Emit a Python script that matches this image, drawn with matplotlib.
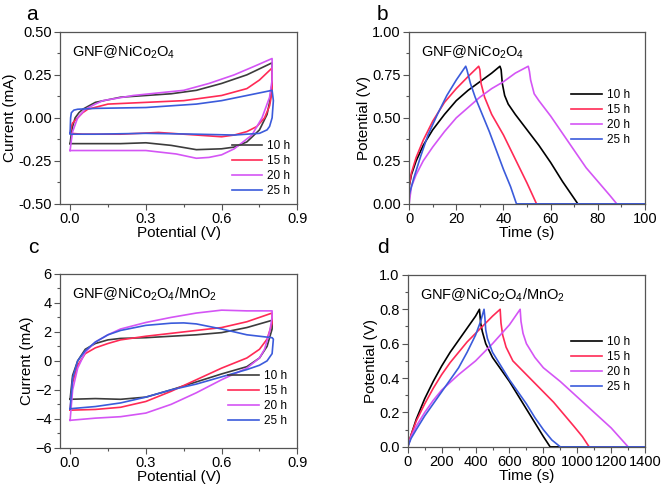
import matplotlib
matplotlib.use("Agg")
import matplotlib.pyplot as plt
from matplotlib.ticker import AutoMinorLocator

plt.rcParams["font.family"] = ["Liberation Sans", "DejaVu Sans"]
plt.rcParams["mathtext.fontset"] = "custom"
plt.rcParams["mathtext.rm"] = "Liberation Sans"
plt.rcParams["mathtext.it"] = "Liberation Sans"
plt.rcParams["mathtext.default"] = "regular"

labels = ["10 h", "15 h", "20 h", "25 h"]
cv_colors = ["#3c3c3c", "#ff2a55", "#d455f5", "#3b5bdb"]
gcd_colors = ["#000000", "#ff2a55", "#d455f5", "#3b5bdb"]

# ---- panel a: CV, GNF@NiCo2O4 (anodic sweep then cathodic sweep)
a_v = {
    "10 h": [0.0, 0.005, 0.01, 0.02, 0.035, 0.05, 0.1, 0.2, 0.3, 0.4, 0.5, 0.6, 0.7, 0.8,
             0.8, 0.79, 0.78, 0.75, 0.7, 0.65, 0.6, 0.5, 0.4, 0.3, 0.2, 0.1, 0.0, 0.0],
    "15 h": [0.0, 0.005, 0.01, 0.03, 0.05, 0.07, 0.15, 0.3, 0.45, 0.6, 0.7, 0.75, 0.8,
             0.8, 0.79, 0.77, 0.74, 0.7, 0.65, 0.6, 0.5, 0.35, 0.2, 0.05, 0.0, 0.0],
    "20 h": [0.0, 0.005, 0.01, 0.03, 0.06, 0.1, 0.13, 0.25, 0.35, 0.45, 0.55, 0.65, 0.73, 0.8,
             0.8, 0.79, 0.76, 0.72, 0.65, 0.6, 0.55, 0.5, 0.42, 0.3, 0.1, 0.0, 0.0],
    "25 h": [0.0, 0.002, 0.005, 0.015, 0.03, 0.1, 0.3, 0.5, 0.6, 0.7, 0.8,
             0.805, 0.8, 0.79, 0.78, 0.75, 0.65, 0.5, 0.3, 0.1, 0.0, 0.0],
}
a_i = {
    "10 h": [-0.15, -0.09, -0.05, 0.0, 0.03, 0.05, 0.09, 0.12, 0.13, 0.14, 0.16, 0.2, 0.25, 0.32,
             0.2, 0.09, 0.02, -0.07, -0.14, -0.17, -0.18, -0.185, -0.16, -0.145, -0.15, -0.15, -0.15, -0.15],
    "15 h": [-0.09, -0.05, -0.03, 0.0, 0.03, 0.05, 0.08, 0.09, 0.1, 0.13, 0.17, 0.22, 0.29,
             0.15, 0.07, 0.0, -0.05, -0.08, -0.1, -0.11, -0.1, -0.085, -0.095, -0.095, -0.09, -0.09],
    "20 h": [-0.19, -0.13, -0.08, 0.0, 0.05, 0.08, 0.1, 0.13, 0.145, 0.16, 0.2, 0.25, 0.3, 0.345,
             0.22, 0.12, 0.0, -0.1, -0.18, -0.215, -0.23, -0.235, -0.21, -0.19, -0.19, -0.19, -0.19],
    "25 h": [-0.09, 0.0, 0.03, 0.045, 0.05, 0.055, 0.06, 0.08, 0.1, 0.13, 0.16,
             0.1, 0.0, -0.05, -0.07, -0.09, -0.1, -0.095, -0.09, -0.095, -0.095, -0.09],
}

# ---- panel b: GCD, GNF@NiCo2O4
b_t = {
    "10 h": [0, 1, 3, 6, 10, 15, 20, 25, 30, 35, 38.5, 39, 39.5, 40.5, 42, 45, 50, 55,
             60, 65, 71.5, 100],
    "15 h": [0, 1, 3, 6, 10, 15, 20, 25, 29.5, 30, 30.5, 32, 35, 40, 45, 50, 54, 100],
    "20 h": [0, 1, 3, 6, 10, 15, 20, 25, 30, 35, 40, 45, 50.5, 51, 51.5, 53, 55, 60,
             65, 70, 75, 80, 85, 88, 100],
    "25 h": [0, 2, 5, 8, 12, 16, 20, 24, 24.5, 26, 28, 31, 34, 37, 40, 43, 45.5, 100],
}
b_u = {
    "10 h": [0.1, 0.17, 0.25, 0.34, 0.43, 0.52, 0.6, 0.66, 0.71, 0.76, 0.8, 0.78, 0.7,
             0.63, 0.58, 0.52, 0.43, 0.34, 0.24, 0.13, 0.0, 0.0],
    "15 h": [0.1, 0.18, 0.27, 0.37, 0.48, 0.59, 0.67, 0.74, 0.8, 0.78, 0.7, 0.62, 0.52,
             0.4, 0.26, 0.12, 0.0, 0.0],
    "20 h": [0.0, 0.1, 0.17, 0.25, 0.33, 0.42, 0.5, 0.56, 0.62, 0.67, 0.71, 0.76, 0.8,
             0.77, 0.72, 0.64, 0.6, 0.51, 0.41, 0.31, 0.21, 0.13, 0.05, 0.0, 0.0],
    "25 h": [0.05, 0.15, 0.28, 0.4, 0.52, 0.63, 0.72, 0.8, 0.78, 0.7, 0.62, 0.52, 0.42,
             0.31, 0.2, 0.1, 0.0, 0.0],
}

# ---- panel c: CV, GNF@NiCo2O4/MnO2
c_v = {
    "10 h": [0.0, 0.01, 0.03, 0.06, 0.1, 0.15, 0.2, 0.3, 0.4, 0.5, 0.6, 0.7, 0.8,
             0.8, 0.78, 0.75, 0.7, 0.6, 0.5, 0.4, 0.3, 0.2, 0.1, 0.0, 0.0],
    "15 h": [0.0, 0.01, 0.03, 0.06, 0.1, 0.15, 0.2, 0.3, 0.4, 0.5, 0.6, 0.7, 0.8,
             0.8, 0.78, 0.75, 0.7, 0.6, 0.5, 0.4, 0.3, 0.2, 0.1, 0.0, 0.0],
    "20 h": [0.0, 0.01, 0.03, 0.06, 0.1, 0.15, 0.2, 0.3, 0.4, 0.5, 0.6, 0.7, 0.8,
             0.8, 0.79, 0.77, 0.75, 0.7, 0.6, 0.5, 0.4, 0.3, 0.2, 0.1, 0.0, 0.0],
    "25 h": [0.0, 0.01, 0.03, 0.06, 0.1, 0.15, 0.2, 0.3, 0.4, 0.45, 0.5, 0.6, 0.7, 0.8,
             0.805, 0.8, 0.78, 0.75, 0.7, 0.6, 0.5, 0.4, 0.3, 0.2, 0.1, 0.0, 0.0],
}
c_i = {
    "10 h": [-2.65, -1.0, 0.0, 0.8, 1.2, 1.45, 1.55, 1.6, 1.7, 1.8, 1.95, 2.3, 2.8,
             2.2, 1.0, 0.2, -0.4, -0.9, -1.45, -2.0, -2.5, -2.65, -2.6, -2.65, -2.65],
    "15 h": [-3.4, -1.5, -0.3, 0.5, 0.9, 1.2, 1.45, 1.7, 1.9, 2.1, 2.3, 2.7, 3.3,
             2.6, 1.5, 0.8, 0.2, -0.5, -1.3, -2.1, -2.8, -3.2, -3.35, -3.4, -3.4],
    "20 h": [-4.1, -2.0, -0.5, 0.6, 1.3, 1.8, 2.2, 2.65, 3.0, 3.3, 3.5, 3.45, 3.45,
             3.0, 2.0, 0.8, 0.2, -0.5, -1.3, -2.2, -3.0, -3.6, -3.85, -3.95, -4.1, -4.1],
    "25 h": [-3.3, -1.2, 0.0, 0.7, 1.3, 1.8, 2.1, 2.45, 2.6, 2.62, 2.55, 2.2, 1.8, 1.6,
             1.5, 0.5, 0.0, -0.3, -0.6, -1.1, -1.6, -2.0, -2.5, -2.9, -3.15, -3.3, -3.3],
}

# ---- panel d: GCD, GNF@NiCo2O4/MnO2
d_t = {
    "10 h": [0, 20, 50, 100, 150, 200, 250, 300, 350, 400, 423, 430, 440, 460, 500, 550,
             600, 650, 700, 750, 800, 840, 1400],
    "15 h": [0, 20, 50, 100, 150, 200, 250, 300, 350, 400, 450, 500, 545, 550, 560, 580,
             620, 680, 740, 800, 860, 920, 980, 1030, 1070, 1400],
    "20 h": [0, 20, 50, 100, 150, 200, 300, 400, 500, 600, 663, 668, 680, 700, 750, 800,
             900, 1000, 1100, 1200, 1300, 1400],
    "25 h": [0, 20, 50, 100, 150, 200, 250, 300, 350, 400, 430, 450, 455, 460, 470, 500,
             550, 600, 650, 700, 750, 800, 850, 900, 1400],
}
d_u = {
    "10 h": [0.0, 0.07, 0.16, 0.28, 0.38, 0.47, 0.55, 0.62, 0.69, 0.76, 0.8, 0.72, 0.67,
             0.6, 0.52, 0.45, 0.38, 0.3, 0.22, 0.14, 0.06, 0.0, 0.0],
    "15 h": [0.0, 0.07, 0.15, 0.25, 0.34, 0.42, 0.49, 0.55, 0.61, 0.66, 0.71, 0.76, 0.8,
             0.72, 0.65, 0.58, 0.5, 0.44, 0.38, 0.32, 0.26, 0.19, 0.12, 0.06, 0.0, 0.0],
    "20 h": [0.0, 0.06, 0.12, 0.2, 0.27, 0.33, 0.42, 0.5, 0.6, 0.71, 0.8, 0.73, 0.66,
             0.6, 0.52, 0.46, 0.38, 0.29, 0.2, 0.11, 0.0, 0.0],
    "25 h": [0.0, 0.05, 0.1, 0.18, 0.25, 0.32, 0.39, 0.46, 0.55, 0.65, 0.73, 0.8, 0.75,
             0.68, 0.63, 0.55, 0.47, 0.39, 0.32, 0.25, 0.17, 0.1, 0.04, 0.0, 0.0],
}

title_a = "GNF@NiCo$_2$O$_4$"
title_c = "GNF@NiCo$_2$O$_4$/MnO$_2$"

fig = plt.figure(figsize=(6.63, 4.9), dpi=100)
ax_a = fig.add_axes([0.0905, 0.584, 0.358, 0.351])
ax_b = fig.add_axes([0.617, 0.584, 0.356, 0.351])
ax_c = fig.add_axes([0.0905, 0.086, 0.358, 0.355])
ax_d = fig.add_axes([0.615, 0.088, 0.358, 0.351])


def style(ax):
    for s in ax.spines.values():
        s.set_color("#555555")
        s.set_linewidth(0.9)
    ax.xaxis.set_minor_locator(AutoMinorLocator(2))
    ax.yaxis.set_minor_locator(AutoMinorLocator(2))
    ax.tick_params(which="both", direction="out", top=False, right=False,
                   color="#555555", labelsize=10.5, pad=2)
    ax.tick_params(which="major", length=4, width=0.8)
    ax.tick_params(which="minor", length=2, width=0.8)


def draw(ax, xs, ys, colors):
    for lab, col in zip(labels, colors):
        ax.plot(xs[lab], ys[lab], color=col, lw=1.2, label=lab)


leg_kw = dict(frameon=False, fontsize=8.5, handlelength=2.6, labelspacing=0.25,
              handletextpad=0.4)

draw(ax_a, a_v, a_i, cv_colors)
ax_a.set_xlim(-0.04, 0.9); ax_a.set_ylim(-0.5, 0.5)
ax_a.set_xticks([0.0, 0.3, 0.6, 0.9]); ax_a.set_yticks([-0.5, -0.25, 0, 0.25, 0.5])
ax_a.set_yticklabels(["-0.50", "-0.25", "0.00", "0.25", "0.50"])
ax_a.set_xlabel("Potential (V)", fontsize=11, labelpad=0)
ax_a.set_ylabel("Current (mA)", fontsize=11, labelpad=1)
ax_a.legend(loc="lower right", borderaxespad=0.2, **leg_kw)

draw(ax_b, b_t, b_u, gcd_colors)
ax_b.set_xlim(0, 100); ax_b.set_ylim(0, 1.0)
ax_b.set_yticks([0, 0.25, 0.5, 0.75, 1.0])
ax_b.set_yticklabels(["0.00", "0.25", "0.50", "0.75", "1.00"])
ax_b.set_xlabel("Time (s)", fontsize=11, labelpad=0)
ax_b.set_ylabel("Potential (V)", fontsize=11, labelpad=1)
ax_b.legend(loc="center right", bbox_to_anchor=(0.98, 0.5), **leg_kw)

draw(ax_c, c_v, c_i, cv_colors)
ax_c.set_xlim(-0.04, 0.9); ax_c.set_ylim(-6, 6)
ax_c.set_xticks([0.0, 0.3, 0.6, 0.9]); ax_c.set_yticks([-6, -4, -2, 0, 2, 4, 6])
ax_c.set_xlabel("Potential (V)", fontsize=11, labelpad=0)
ax_c.set_ylabel("Current (mA)", fontsize=11, labelpad=1)
ax_c.legend(loc="lower right", bbox_to_anchor=(1.0, 0.06), **leg_kw)

draw(ax_d, d_t, d_u, gcd_colors)
ax_d.set_xlim(0, 1400); ax_d.set_ylim(0, 1.0)
ax_d.set_xticks(range(0, 1401, 200))
ax_d.set_yticks([0, 0.2, 0.4, 0.6, 0.8, 1.0])
ax_d.set_xlabel("Time (s)", fontsize=11, labelpad=0)
ax_d.set_ylabel("Potential (V)", fontsize=11, labelpad=1)
ax_d.legend(loc="center right", bbox_to_anchor=(0.98, 0.48), **leg_kw)

for ax in (ax_a, ax_b, ax_c, ax_d):
    style(ax)

ax_a.text(0.05, 0.88, title_a, transform=ax_a.transAxes, fontsize=10.5, va="center")
ax_b.text(0.05, 0.88, title_a, transform=ax_b.transAxes, fontsize=10.5, va="center")
ax_c.text(0.05, 0.88, title_c, transform=ax_c.transAxes, fontsize=10.5, va="center")
ax_d.text(0.05, 0.88, title_c, transform=ax_d.transAxes, fontsize=10.5, va="center")

for x, y, s in [(0.048, 0.959, "a"), (0.577, 0.959, "b"),
                (0.05, 0.484, "c"), (0.578, 0.484, "d")]:
    fig.text(x, y, s, fontsize=15, va="baseline", ha="center")

fig.savefig("out.png", dpi=100)
